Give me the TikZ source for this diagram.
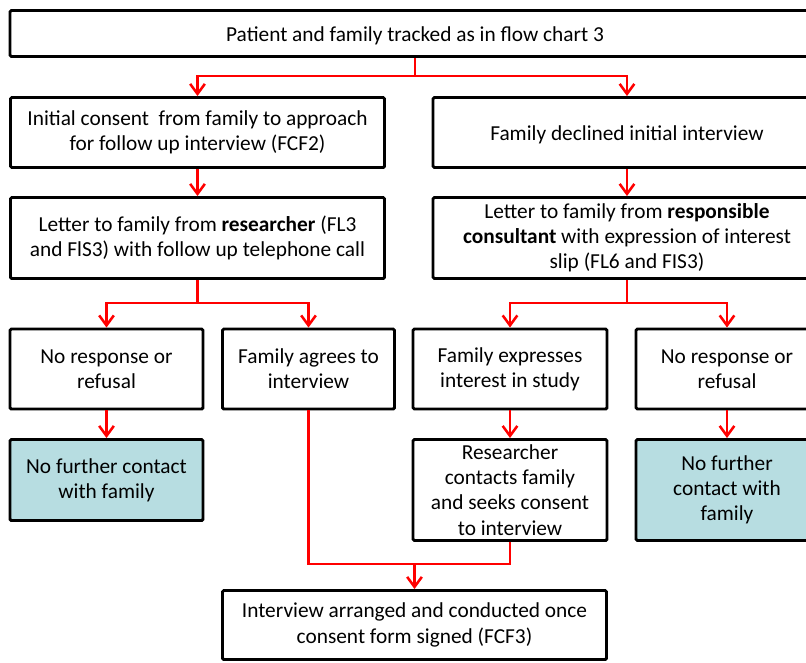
\documentclass[tikz,border=0pt]{standalone}
\usepackage{fontspec}
\setmainfont{Carlito}
\usetikzlibrary{arrows.meta}
\definecolor{flowred}{RGB}{255,0,0}
\definecolor{stopfill}{RGB}{183,221,225}
\tikzset{
  box/.style={draw=black, line width=2.2pt, rounded corners=1pt, align=center,
    inner sep=0pt, font=\fontsize{16}{18.9}\selectfont,
    execute at begin node={\rule{0pt}{15pt}}},
  stopbox/.style={box, fill=stopfill},
  link/.style={draw=flowred, line width=1.9pt},
  flow/.style={link, -{Straight Barb[length=7.5pt,width=11pt,line width=1.9pt]}}
}
\begin{document}
\begin{tikzpicture}[x=0.75pt, y=-0.75pt]
	\clip (0,0) rectangle (806,662);
	\fill[white] (0,0) rectangle (806,662);
	% boxes
	\node[box, minimum width=810*0.75pt, minimum height=46*0.75pt] (track) at (415,33.5) {Patient and family tracked as in flow chart 3};
	\node[box, minimum width=374*0.75pt, minimum height=70*0.75pt] (consent) at (197.5,132.5) {Initial consent~ from family to approach\\for follow up interview (FCF2)};
	\node[box, minimum width=388*0.75pt, minimum height=70*0.75pt] (declined) at (627,132.5) {Family declined initial interview};
	\node[box, minimum width=374*0.75pt, minimum height=81*0.75pt] (letterR) at (197.5,238) {Letter to family from \textbf{researcher} (FL3\\and FlS3) with follow up telephone call};
	\node[box, minimum width=388*0.75pt, minimum height=81*0.75pt] (letterC) at (627,238) {Letter to family from \textbf{responsible}\\\textbf{consultant} with expression of interest\\slip (FL6 and FIS3)};
	\node[box, minimum width=193*0.75pt, minimum height=80*0.75pt] (noresp1) at (106.5,369) {No response or\\refusal};
	\node[box, minimum width=172*0.75pt, minimum height=80*0.75pt] (agrees) at (308.5,369) {Family agrees to\\interview};
	\node[box, minimum width=194*0.75pt, minimum height=80*0.75pt] (express) at (510,369) {Family expresses\\interest in study};
	\node[box, minimum width=182*0.75pt, minimum height=80*0.75pt] (noresp2) at (727,369) {No response or\\refusal};
	\node[stopbox, minimum width=193*0.75pt, minimum height=81*0.75pt] (stop1) at (106.5,480) {No further contact\\with family};
	\node[box, minimum width=194*0.75pt, minimum height=101*0.75pt] (contacts) at (510,490) {Researcher\\contacts family\\and seeks consent\\to interview};
	\node[stopbox, minimum width=182*0.75pt, minimum height=101*0.75pt] (stop2) at (727,490) {No further\\contact with\\family};
	\node[box, minimum width=384*0.75pt, minimum height=69*0.75pt] (arranged) at (414.5,625) {Interview arranged and conducted once\\consent form signed (FCF3)};
	% branch points
	\coordinate (split1) at (415,76);
	\coordinate (split2) at (197.5,303);
	\coordinate (split3) at (627,303);
	\coordinate (merge) at (414.5,564);
	% connectors
	\draw[link] (track.south) -- (split1);
	\draw[flow] (split1) -| (consent.north);
	\draw[flow] (split1) -| (declined.north);
	\draw[flow] (consent.south) -- (letterR.north);
	\draw[flow] (declined.south) -- (letterC.north);
	\draw[link] (letterR.south) -- (split2);
	\draw[flow] (split2) -| (noresp1.north);
	\draw[flow] (split2) -| (agrees.north);
	\draw[link] (letterC.south) -- (split3);
	\draw[flow] (split3) -| (express.north);
	\draw[flow] (split3) -| (noresp2.north);
	\draw[flow] (noresp1.south) -- (stop1.north);
	\draw[flow] (express.south) -- (contacts.north);
	\draw[flow] (noresp2.south) -- (stop2.north);
	\draw[link] (agrees.south) |- (merge);
	\draw[link] (contacts.south) |- (merge);
	\draw[flow] (merge) -- (arranged.north);
\end{tikzpicture}
\end{document}
